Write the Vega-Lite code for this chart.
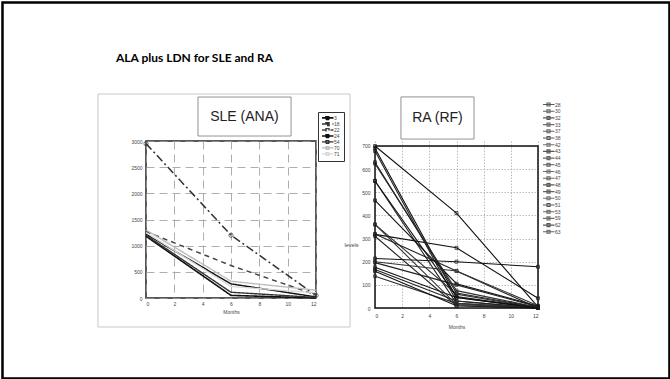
{
  "$schema": "https://vega.github.io/schema/vega-lite/v6.json",
  "background": "white",
  "padding": 0,
  "bounds": "flush",
  "spacing": 59,
  "resolve": {"scale": {"color": "independent", "strokeDash": "independent", "strokeWidth": "independent", "x": "independent", "y": "independent"}},
  "title": {"text": "ALA plus LDN for SLE and RA", "anchor": "start", "font": "Lato", "fontSize": 12, "fontWeight": "bold", "color": "#000", "offset": -64.5, "dx": 115.5},
  "datasets": {
    "sle": [
      {"series": "3", "month": 0, "value": 1180}, {"series": "3", "month": 6, "value": 50}, {"series": "3", "month": 12, "value": 0},
      {"series": "18", "month": 0, "value": 2950}, {"series": "18", "month": 6, "value": 1200}, {"series": "18", "month": 12, "value": 50},
      {"series": "22", "month": 0, "value": 1270}, {"series": "22", "month": 6, "value": 620}, {"series": "22", "month": 12, "value": 60},
      {"series": "24", "month": 0, "value": 1220}, {"series": "24", "month": 6, "value": 270}, {"series": "24", "month": 12, "value": 20},
      {"series": "54", "month": 0, "value": 1200}, {"series": "54", "month": 6, "value": 110}, {"series": "54", "month": 12, "value": 10},
      {"series": "70", "month": 0, "value": 1300}, {"series": "70", "month": 6, "value": 320}, {"series": "70", "month": 12, "value": 150},
      {"series": "71", "month": 0, "value": 1250}, {"series": "71", "month": 6, "value": 220}, {"series": "71", "month": 12, "value": 100}
    ],
    "ra": [
      {"series": "28", "month": 0, "value": 700}, {"series": "28", "month": 6, "value": 410}, {"series": "28", "month": 12, "value": 5},
      {"series": "30", "month": 0, "value": 678}, {"series": "30", "month": 6, "value": 30}, {"series": "30", "month": 12, "value": 0},
      {"series": "32", "month": 0, "value": 690}, {"series": "32", "month": 6, "value": 45}, {"series": "32", "month": 12, "value": 0},
      {"series": "33", "month": 0, "value": 624}, {"series": "33", "month": 6, "value": 75}, {"series": "33", "month": 12, "value": 3},
      {"series": "37", "month": 0, "value": 549}, {"series": "37", "month": 6, "value": 20}, {"series": "37", "month": 12, "value": 0},
      {"series": "38", "month": 0, "value": 465}, {"series": "38", "month": 6, "value": 105}, {"series": "38", "month": 12, "value": 8},
      {"series": "42", "month": 0, "value": 361}, {"series": "42", "month": 6, "value": 60}, {"series": "42", "month": 12, "value": 0},
      {"series": "43", "month": 0, "value": 318}, {"series": "43", "month": 6, "value": 260}, {"series": "43", "month": 12, "value": 42},
      {"series": "44", "month": 0, "value": 320}, {"series": "44", "month": 6, "value": 160}, {"series": "44", "month": 12, "value": 0},
      {"series": "45", "month": 0, "value": 214}, {"series": "45", "month": 6, "value": 200}, {"series": "45", "month": 12, "value": 178},
      {"series": "46", "month": 0, "value": 200}, {"series": "46", "month": 6, "value": 160}, {"series": "46", "month": 12, "value": 10},
      {"series": "47", "month": 0, "value": 196}, {"series": "47", "month": 6, "value": 100}, {"series": "47", "month": 12, "value": 5},
      {"series": "48", "month": 0, "value": 176}, {"series": "48", "month": 6, "value": 45}, {"series": "48", "month": 12, "value": 0},
      {"series": "49", "month": 0, "value": 166}, {"series": "49", "month": 6, "value": 30}, {"series": "49", "month": 12, "value": 0},
      {"series": "50", "month": 0, "value": 137}, {"series": "50", "month": 6, "value": 20}, {"series": "50", "month": 12, "value": 0},
      {"series": "51", "month": 0, "value": 159}, {"series": "51", "month": 6, "value": 10}, {"series": "51", "month": 12, "value": 0},
      {"series": "53", "month": 0, "value": 630}, {"series": "53", "month": 6, "value": 65}, {"series": "53", "month": 12, "value": 2},
      {"series": "59", "month": 0, "value": 361}, {"series": "59", "month": 6, "value": 15}, {"series": "59", "month": 12, "value": 0},
      {"series": "62", "month": 0, "value": 549}, {"series": "62", "month": 6, "value": 50}, {"series": "62", "month": 12, "value": 0},
      {"series": "63", "month": 0, "value": 310}, {"series": "63", "month": 6, "value": 10}, {"series": "63", "month": 12, "value": 0}
    ]
  },
  "hconcat": [
    {
      "width": 170,
      "height": 157,
      "view": {"stroke": "#222", "strokeWidth": 1.5},
      "layer": [
        {
          "data": {"name": "sle"},
          "mark": {"type": "line"},
          "encoding": {
            "x": {"field": "month", "type": "quantitative", "scale": {"domain": [0, 12], "nice": false},
                  "axis": {"values": [0, 2, 4, 6, 8, 10, 12], "tickCount": 7, "format": "d", "grid": true, "gridDash": [8, 5], "gridColor": "#999", "gridWidth": 0.8, "title": "Months", "titlePadding": 3}},
            "y": {"field": "value", "type": "quantitative", "scale": {"domain": [0, 3000], "nice": false},
                  "axis": {"values": [0, 500, 1000, 1500, 2000, 2500, 3000], "tickCount": 7, "format": "d", "grid": true, "gridDash": [8, 5], "gridColor": "#999", "gridWidth": 0.8, "title": null, "labelPadding": 4}},
            "color": {"field": "series", "type": "nominal",
                      "scale": {"domain": ["3", "18", "22", "24", "54", "70", "71"], "range": ["#111", "#333", "#444", "#111", "#333", "#bbb", "#d8d8d8"]},
                      "legend": {"orient": "none", "legendX": 172, "legendY": -29, "title": null, "symbolType": "M-4,0L4,0M-1,-1L1,-1L1,1L-1,1Z", "symbolSize": 9, "symbolOffset": 3, "symbolStrokeWidth": 1.1, "labelFontSize": 5, "labelColor": "#444", "clipHeight": 3.8, "rowPadding": 0, "padding": 4, "strokeColor": "#333", "fillColor": "white", "labelOffset": 4}},
            "strokeDash": {"field": "series", "type": "nominal",
                      "scale": {"domain": ["3", "18", "22", "24", "54", "70", "71"], "range": [[1, 0], [8, 3, 2, 3], [5, 4], [1, 0], [1, 0], [1, 0], [1, 0]]}},
            "strokeWidth": {"field": "series", "type": "nominal",
                      "scale": {"domain": ["3", "18", "22", "24", "54", "70", "71"], "range": [1.6, 1.3, 1, 1.4, 1, 1.2, 1.2]}, "legend": null}
          }
        },
        {
          "data": {"name": "sle"},
          "transform": [{"filter": "datum.series === '18'"}],
          "mark": {"type": "point", "shape": "circle", "filled": false, "size": 18, "stroke": "#333", "strokeWidth": 1},
          "encoding": {
            "x": {"field": "month", "type": "quantitative", "axis": {"values": [0, 2, 4, 6, 8, 10, 12], "tickCount": 7}},
            "y": {"field": "value", "type": "quantitative", "axis": {"values": [0, 500, 1000, 1500, 2000, 2500, 3000], "tickCount": 7}}
          }
        },
        {
          "data": {"values": [{"label": "SLE (ANA)"}]},
          "mark": {"type": "rect", "fill": "white", "stroke": "#777", "strokeWidth": 0.8},
          "encoding": {"x": {"datum": 3.67}, "x2": {"datum": 10.24}, "y": {"datum": 3095}, "y2": {"datum": 3840}}
        },
        {
          "data": {"values": [{"label": "SLE (ANA)"}]},
          "mark": {"type": "text", "font": "Liberation Sans", "fontSize": 14, "color": "#222"},
          "encoding": {"x": {"datum": 6.95}, "y": {"datum": 3467}, "text": {"field": "label"}}
        },
        {
          "data": {"values": [{"label": "image frame"}]},
          "mark": {"type": "rect", "fillOpacity": 0, "stroke": "#c8c8c8", "strokeWidth": 1},
          "encoding": {"x": {"datum": -3.39}, "x2": {"datum": 14.4}, "y": {"datum": -554}, "y2": {"datum": 3898}}
        },
        {
          "data": {"values": [{"label": "slide frame"}]},
          "mark": {"type": "rect", "fillOpacity": 0, "stroke": "#000", "strokeWidth": 2.5},
          "encoding": {"x": {"datum": -10.13}, "x2": {"datum": 36.95}, "y": {"datum": -1538}, "y2": {"datum": 5646}}
        }
      ]
    },
    {
      "width": 163,
      "height": 167,
      "view": {"stroke": null},
      "layer": [
        {
          "data": {"name": "ra"},
          "mark": {"type": "line", "strokeWidth": 1.1},
          "encoding": {
            "x": {"field": "month", "type": "quantitative", "scale": {"domain": [0, 12], "nice": false},
                  "axis": {"values": [0, 2, 4, 6, 8, 10, 12], "tickCount": 7, "format": "d", "grid": true, "gridDash": [1.5, 1.5], "gridColor": "#aaa", "gridWidth": 0.8, "title": "Months", "titlePadding": 6, "labelPadding": 5}},
            "y": {"field": "value", "type": "quantitative", "scale": {"domain": [0, 721.6], "nice": false},
                  "axis": {"values": [0, 100, 200, 300, 400, 500, 600, 700], "tickCount": 8, "format": "d", "grid": true, "gridDash": [1.5, 1.5], "gridColor": "#aaa", "gridWidth": 0.8, "title": "levels", "titleAngle": 0, "titleAlign": "right", "titleBaseline": "middle", "titleX": -17, "titleY": 103, "titleFontSize": 5.5, "labelPadding": 5}},
            "color": {"field": "series", "type": "nominal",
                      "scale": {"domain": ["28", "30", "32", "33", "37", "38", "42", "43", "44", "45", "46", "47", "48", "49", "50", "51", "53", "59", "62", "63"],
                                "range": ["#111", "#222", "#111", "#333", "#222", "#111", "#333", "#111", "#222", "#111", "#333", "#222", "#111", "#222", "#333", "#111", "#222", "#333", "#111", "#222"]},
                      "legend": {"orient": "none", "legendX": 166, "legendY": -41, "title": null, "symbolType": "M-4,0L4,0M-1,-1L1,-1L1,1L-1,1Z", "symbolSize": 9, "symbolOffset": 3, "symbolStrokeWidth": 1.1, "labelFontSize": 5, "labelColor": "#444", "clipHeight": 5, "rowPadding": 0.7, "padding": 2, "labelOffset": 4}}
          }
        },
        {
          "data": {"name": "ra"},
          "mark": {"type": "point", "shape": "square", "filled": false, "size": 9, "strokeWidth": 1},
          "encoding": {
            "x": {"field": "month", "type": "quantitative", "axis": {"values": [0, 2, 4, 6, 8, 10, 12], "tickCount": 7}},
            "y": {"field": "value", "type": "quantitative", "axis": {"values": [0, 100, 200, 300, 400, 500, 600, 700], "tickCount": 8}},
            "color": {"field": "series", "type": "nominal"}
          }
        },
        {
          "data": {"values": [{"label": "frame"}]},
          "mark": {"type": "rect", "fillOpacity": 0, "stroke": "#111", "strokeWidth": 1.5},
          "encoding": {"x": {"datum": 0}, "x2": {"datum": 12}, "y": {"datum": 0}, "y2": {"datum": 700}}
        },
        {
          "data": {"values": [{"label": "RA (RF)"}]},
          "mark": {"type": "rect", "fill": "white", "stroke": "#777", "strokeWidth": 0.8},
          "encoding": {"x": {"datum": 1.91}, "x2": {"datum": 7.29}, "y": {"datum": 730}, "y2": {"datum": 912}}
        },
        {
          "data": {"values": [{"label": "RA (RF)"}]},
          "mark": {"type": "text", "font": "Liberation Sans", "fontSize": 14, "color": "#222"},
          "encoding": {"x": {"datum": 4.6}, "y": {"datum": 821}, "text": {"field": "label"}}
        }
      ]
    }
  ],
  "config": {
    "font": "Liberation Sans",
    "style": {"guide-label": {"fontSize": 5}},
    "legend": {"labelFontSize": 5},
    "axis": {"labelFontSize": 5, "labelColor": "#444", "titleFontSize": 5, "titleFontWeight": "normal", "titleColor": "#444", "domain": false, "ticks": false, "labelPadding": 3}
  }
}
